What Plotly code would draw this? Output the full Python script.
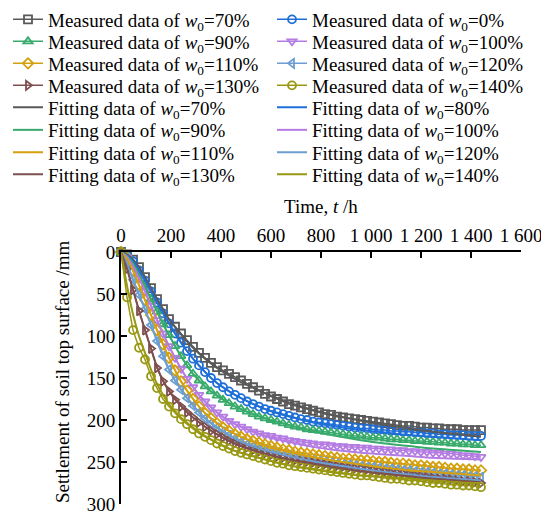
import plotly.graph_objects as go

# ---------------- data ----------------
t_meas = list(range(0, 1441, 24))
t_fit = [0, 24, 48, 72, 96, 120, 144, 168, 192, 240, 288, 336, 384, 432, 480,
         576, 672, 768, 864, 960, 1056, 1152, 1248, 1344, 1440]

labels = ["70%", "0%", "90%", "100%", "110%", "120%", "130%", "140%"]
fit_labels = ["70%", "80%", "90%", "100%", "110%", "120%", "130%", "140%"]

meas_70 = [0, 3, 9, 18, 30, 43, 56, 68, 80, 89,
           97, 105, 113, 120, 126, 132, 137, 141, 145, 149,
           153, 157, 161, 165, 169, 172, 175, 178, 181, 183,
           185, 187, 189, 191, 193, 194, 196, 197, 198, 199,
           200, 201, 202, 203, 204, 205, 206, 207, 207, 208,
           209, 209, 210, 210, 211, 211, 211, 212, 212, 212, 212]
meas_80 = [0, 4, 11, 22, 34, 47, 60, 73, 85, 97,
           108, 118, 127, 135, 143, 150, 156, 161, 166, 170,
           174, 178, 181, 184, 187, 189, 191, 193, 195, 197,
           199, 200, 202, 203, 204, 205, 206, 207, 208, 209,
           210, 210, 211, 212, 212, 213, 213, 214, 214, 215,
           215, 216, 216, 217, 217, 218, 218, 218, 219, 219, 219]
meas_90 = [0, 5, 14, 27, 41, 56, 71, 86, 99, 112,
           124, 135, 145, 153, 160, 166, 171, 176, 180, 184,
           187, 190, 193, 196, 198, 200, 202, 204, 206, 208,
           209, 211, 212, 213, 214, 215, 216, 217, 218, 219,
           219, 220, 221, 221, 222, 223, 223, 224, 224, 225,
           225, 226, 226, 227, 227, 228, 228, 229, 229, 230, 230]
meas_100 = [0, 6, 17, 31, 47, 64, 81, 97, 112, 126,
            139, 151, 161, 170, 178, 185, 191, 196, 201, 205,
            208, 211, 214, 216, 218, 219, 221, 222, 224, 225,
            226, 227, 228, 229, 229, 230, 231, 231, 232, 232,
            233, 233, 234, 234, 235, 235, 236, 236, 237, 237,
            238, 238, 239, 239, 240, 240, 241, 242, 242, 243, 244]
meas_110 = [0, 8, 22, 39, 57, 75, 93, 110, 126, 141,
            154, 165, 175, 184, 192, 198, 204, 209, 213, 217,
            220, 223, 225, 227, 229, 231, 233, 235, 236, 238,
            239, 240, 241, 242, 243, 244, 245, 246, 246, 247,
            248, 248, 249, 250, 250, 251, 252, 252, 253, 254,
            254, 255, 256, 256, 257, 258, 258, 259, 259, 260, 260]
meas_120 = [0, 14, 33, 51, 68, 87, 106, 124, 140, 153,
            164, 174, 183, 191, 198, 204, 209, 214, 218, 222,
            226, 229, 231, 234, 236, 238, 240, 242, 243, 245,
            246, 247, 248, 249, 250, 251, 252, 253, 253, 254,
            255, 256, 256, 257, 258, 258, 259, 260, 260, 261,
            262, 262, 263, 264, 264, 265, 266, 266, 267, 267, 268]
meas_130 = [0, 20, 45, 70, 93, 115, 138, 154, 166, 176,
            184, 191, 197, 203, 208, 213, 217, 221, 225, 228,
            231, 233, 236, 238, 240, 242, 244, 245, 247, 248,
            249, 250, 251, 252, 253, 254, 255, 256, 257, 258,
            258, 259, 260, 261, 262, 263, 263, 264, 265, 266,
            267, 268, 269, 270, 270, 271, 272, 273, 273, 274, 275]
meas_140 = [0, 54, 93, 114, 128, 148, 162, 175, 184, 192,
            199, 205, 211, 216, 220, 224, 228, 231, 234, 237,
            239, 241, 243, 245, 247, 249, 251, 252, 254, 255,
            256, 257, 258, 259, 260, 261, 262, 263, 264, 265,
            266, 266, 267, 268, 269, 270, 270, 271, 272, 272,
            273, 274, 275, 275, 276, 277, 277, 278, 278, 279, 280]

fit_70 = [0, 3, 9, 18, 30, 43, 56, 68, 80, 98, 114, 127, 138, 147, 155, 168, 179, 188, 195, 201, 206, 210, 214, 217, 220]
fit_80 = [0, 4, 11, 22, 34, 47, 60, 73, 85, 108, 127, 143, 156, 166, 174, 187, 196, 203, 208, 212, 215, 218, 220, 222, 224]
fit_90 = [0, 5, 14, 27, 41, 56, 71, 86, 99, 124, 145, 160, 171, 180, 187, 198, 206, 213, 219, 224, 228, 231, 234, 236, 238]
fit_100 = [0, 6, 17, 31, 47, 64, 81, 97, 112, 139, 161, 178, 191, 201, 208, 219, 226, 232, 236, 239, 241, 243, 245, 246, 247]
fit_110 = [0, 8, 22, 39, 57, 75, 93, 110, 126, 154, 175, 192, 204, 213, 220, 231, 238, 244, 249, 253, 257, 260, 262, 264, 266]
fit_120 = [0, 14, 33, 51, 68, 87, 106, 124, 140, 164, 183, 198, 209, 218, 226, 236, 243, 249, 254, 258, 262, 265, 268, 270, 272]
fit_130 = [0, 20, 45, 70, 93, 115, 137, 153, 165, 183, 197, 208, 217, 225, 231, 240, 247, 252, 257, 261, 264, 267, 270, 272, 274]
fit_140 = [0, 40, 74, 100, 120, 140, 157, 170, 181, 197, 209, 219, 227, 234, 239, 247, 254, 259, 263, 266, 268, 270, 272, 274, 275]

x_tickvals = [0, 200, 400, 600, 800, 1000, 1200, 1400, 1600]
x_ticktext = ["0", "200", "400", "600", "800", "1 000", "1 200", "1 400", "1 600"]
y_tickvals = [0, 50, 100, 150, 200, 250, 300]

# ---------------- style ----------------
colors = ["#595959", "#1F6FD8", "#38AB6C", "#B47CE2", "#D4A00E", "#6B9ED3", "#7E4F4F", "#989812"]
symbols = ["square-open", "circle-open", "triangle-up-open", "triangle-down-open",
           "diamond-open", "triangle-left-open", "triangle-right-open", "circle-open"]
FONT = "Liberation Serif"
# the page body adds an 8 px margin, so the figure is 8 px smaller than the window
W, H = 541, 505

meas = [meas_70, meas_80, meas_90, meas_100, meas_110, meas_120, meas_130, meas_140]
fits = [fit_70, fit_80, fit_90, fit_100, fit_110, fit_120, fit_130, fit_140]

# legend placement (figure pixels): 2 columns x 8 rows, one small legend per entry
col_x = [0, 264]
row_y = [11.5, 33.5, 55.5, 77.5, 99.5, 122, 144.5, 166.5]


def legend_key(k):
    return "legend" if k == 0 else "legend%d" % (k + 1)


fig = go.Figure()
k = 0
for i in range(8):
    y = meas[i]
    fig.add_trace(go.Scatter(
        x=t_meas[:len(y)], y=y, mode="lines+markers",
        name="Measured data of <i>w</i><sub>0</sub>=" + labels[i],
        line=dict(color=colors[i], width=1.5),
        marker=dict(symbol=symbols[i], size=8, color=colors[i], line=dict(width=1.8, color=colors[i])),
        cliponaxis=False, legend=legend_key(k),
    ))
    k += 1
for i in range(8):
    y = fits[i]
    fig.add_trace(go.Scatter(
        x=t_fit[:len(y)], y=y, mode="lines",
        name="Fitting data of <i>w</i><sub>0</sub>=" + fit_labels[i],
        line=dict(color=colors[i], width=2, shape="spline"),
        cliponaxis=False, legend=legend_key(k),
    ))
    k += 1

legends = {}
for k in range(16):
    col = k % 2
    row = k // 2
    legends[legend_key(k)] = dict(
        xref="container", yref="container",
        x=col_x[col] / W, y=1 - row_y[row] / H, xanchor="left", yanchor="middle",
        bgcolor="rgba(0,0,0,0)", borderwidth=0,
        font=dict(family=FONT, size=19, color="black"),
    )

fig.update_layout(
    width=W, height=H,
    margin=dict(l=113, r=28, t=244, b=9, autoexpand=False),
    paper_bgcolor="white", plot_bgcolor="white",
    font=dict(family=FONT, size=19, color="black"),
    showlegend=True,
    xaxis=dict(
        side="top", range=[0, 1600], tickvals=x_tickvals, ticktext=x_ticktext,
        showgrid=False, zeroline=False, showline=True, linecolor="black", linewidth=2,
        ticks="inside", ticklen=6, tickwidth=2, tickcolor="black",
        tickfont=dict(family=FONT, size=19, color="black"), ticklabeloverflow="allow",
    ),
    yaxis=dict(
        range=[300, 0], tickvals=y_tickvals,
        showgrid=False, zeroline=False, showline=True, linecolor="black", linewidth=2,
        ticks="inside", ticklen=6, tickwidth=2, tickcolor="black",
        tickfont=dict(family=FONT, size=19, color="black"), ticklabeloverflow="allow",
    ),
    annotations=[
        dict(text="Time, <i>t</i> /h", xref="paper", yref="paper", x=0.5, y=1.179,
             xanchor="center", yanchor="middle", showarrow=False,
             font=dict(family=FONT, size=19, color="black")),
        dict(text="Settlement of soil top surface /mm", xref="paper", yref="paper",
             x=-0.145, y=0.524, xanchor="center", yanchor="middle", textangle=-90,
             showarrow=False, font=dict(family=FONT, size=19, color="black")),
    ],
    **legends,
)

fig.write_html("out.html")
